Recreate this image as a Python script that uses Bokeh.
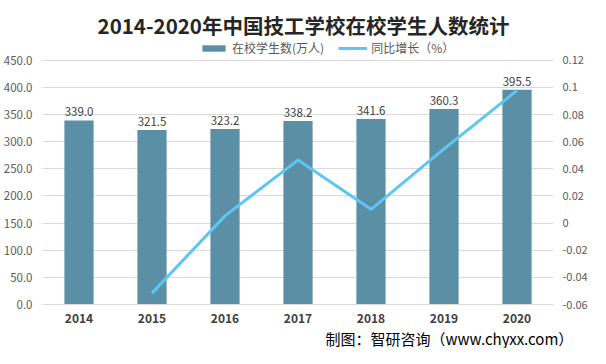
from bokeh.plotting import figure
from bokeh.models import (ColumnDataSource, LinearAxis, Range1d, Legend, LegendItem,
                          Title, Label, LabelSet, FixedTicker, NumeralTickFormatter)
from bokeh.core.properties import value
from bokeh.embed import file_html
from bokeh.resources import INLINE

years = ["2014", "2015", "2016", "2017", "2018", "2019", "2020"]
students = [339.0, 321.5, 323.2, 338.2, 341.6, 360.3, 395.5]
growth_years = ["2015", "2016", "2017", "2018", "2019", "2020"]
growth = [-0.0516, 0.0053, 0.0464, 0.0101, 0.0547, 0.0977]
left_ticks = [0, 50, 100, 150, 200, 250, 300, 350, 400, 450]
right_ticks = [-0.06, -0.04, -0.02, 0, 0.02, 0.04, 0.06, 0.08, 0.1, 0.12]
right_tick_labels = ["-0.06", "-0.04", "-0.02", "0", "0.02", "0.04", "0.06", "0.08", "0.1", "0.12"]

FONT = "Noto Sans CJK SC"
BAR_COLOR = "#5B8FA6"
LINE_COLOR = "#5EC6F2"

# frame extends above the 450 gridline to hold the title and legend
Y_TOP = 560
G_TOP = -0.06 + 0.18 * Y_TOP / 450

bar_src = ColumnDataSource(dict(x=years, y=students, lbl=["%.1f" % v for v in students]))
line_src = ColumnDataSource(dict(x=growth_years, y=growth))

p = figure(x_range=years, y_range=Range1d(0, Y_TOP), width=590, height=348,
           output_backend="svg", toolbar_location=None, title_location=None,
           min_border_left=30, min_border_right=20, min_border_top=0, min_border_bottom=38)
p.outline_line_color = None
p.extra_y_ranges = {"g": Range1d(-0.06, G_TOP)}

bars = p.vbar(x="x", top="y", width=0.4, source=bar_src, fill_color=BAR_COLOR, line_color=None)
line = p.line(x="x", y="y", source=line_src, y_range_name="g", line_color=LINE_COLOR, line_width=3)

labels = LabelSet(x="x", y="y", text="lbl", source=bar_src, text_align="center",
                  text_baseline="bottom", y_offset=4, text_font=value(FONT),
                  text_font_size="11.5px", text_color="#404040")
p.add_layout(labels)

# left axis
p.yaxis.ticker = FixedTicker(ticks=left_ticks)
p.yaxis.formatter = NumeralTickFormatter(format="0.0")
p.yaxis.axis_line_color = None
p.yaxis.major_tick_line_color = None
p.yaxis.minor_tick_line_color = None
p.yaxis.major_label_standoff = 4
p.yaxis.major_label_text_font = FONT
p.yaxis.major_label_text_font_size = "11.5px"
p.yaxis.major_label_text_color = "#595959"

# right axis
ra = LinearAxis(y_range_name="g", ticker=FixedTicker(ticks=right_ticks),
                major_label_overrides={t: s for t, s in zip(right_ticks, right_tick_labels)})
ra.axis_line_color = None
ra.major_tick_line_color = None
ra.minor_tick_line_color = None
ra.major_label_standoff = 3
ra.major_label_text_font = FONT
ra.major_label_text_font_size = "11px"
ra.major_label_text_color = "#595959"
p.add_layout(ra, "right")

# x axis
p.xaxis.axis_line_color = "#D9D9D9"
p.xaxis.major_tick_line_color = None
p.xaxis.minor_tick_line_color = None
p.xaxis.major_label_standoff = 3
p.xaxis.major_label_text_font = FONT
p.xaxis.major_label_text_font_size = "12px"
p.xaxis.major_label_text_font_style = "bold"
p.xaxis.major_label_text_color = "#404040"

p.xgrid.grid_line_color = None
p.ygrid.ticker = FixedTicker(ticks=left_ticks)
p.ygrid.grid_line_color = "#D9D9D9"

legend = Legend(items=[LegendItem(label="在校学生数(万人)", renderers=[bars]),
                       LegendItem(label="同比增长（%）", renderers=[line])],
                orientation="horizontal", location=(157, 248), padding=3, margin=0,
                spacing=14, glyph_width=29, glyph_height=8, label_standoff=4,
                label_text_font=FONT, label_text_font_size="12px", label_text_color="#595959",
                border_line_color=None, background_fill_alpha=0)
p.add_layout(legend, "center")

title = Label(x=261, y=515, x_units="screen", y_units="data",
              text="2014-2020年中国技工学校在校学生人数统计", text_align="center",
              text_baseline="middle", text_font=FONT, text_font_size="20.5px",
              text_font_style="bold", text_color="#262626")
p.add_layout(title)

footer = Title(text="制图：智研咨询（www.chyxx.com）", align="left", offset=283,
               text_font=FONT, text_font_size="15px", text_font_style="normal",
               text_color="#000000", standoff=0)
p.add_layout(footer, "below")

open("out.html", "w").write(file_html(p, INLINE))
